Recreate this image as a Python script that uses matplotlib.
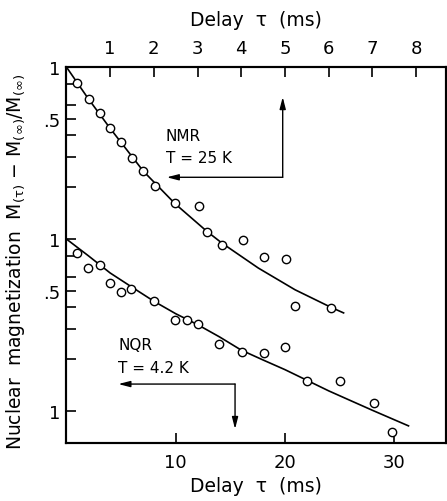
import matplotlib
matplotlib.use('Agg')
import matplotlib.pyplot as plt

# NMR, T = 25 K  (delay on the top axis, ms)
nmr_tau = [0.25, 0.52, 0.77, 1.0, 1.24, 1.5, 1.76, 2.02, 2.49, 3.03, 3.21,
           3.57, 4.03, 4.52, 5.03, 5.23, 6.06]
nmr_m = [0.804, 0.649, 0.542, 0.440, 0.365, 0.295, 0.248, 0.203, 0.163,
         0.156, 0.110, 0.0923, 0.0989, 0.0783, 0.0769, 0.0408, 0.0398]
nmr_fit_tau = [0, 0.49, 1.0, 1.76, 2.49, 3.21, 3.56, 4.39, 5.23, 6.05, 6.34]
nmr_fit_m = [1.0, 0.660, 0.440, 0.248, 0.160, 0.111, 0.0946, 0.0678, 0.0507,
             0.0401, 0.0372]

# NQR, T = 4.2 K  (delay on the bottom axis, ms)
nqr_tau = [1.0, 1.98, 3.03, 4.02, 5.02, 5.93, 8.0, 9.94, 11.0, 12.0, 13.96,
           16.08, 18.05, 19.97, 22.04, 25.03, 28.1, 29.8]
nqr_m = [0.827, 0.683, 0.711, 0.555, 0.494, 0.514, 0.434, 0.340, 0.337,
         0.321, 0.245, 0.221, 0.218, 0.236, 0.149, 0.149, 0.112, 0.076]
nqr_fit_tau = [0, 2, 4, 6, 8, 10, 12, 14, 16, 18, 20, 22, 24, 26, 28, 30, 31.3]
nqr_fit_m = [1.0, 0.80, 0.635, 0.525, 0.435, 0.368, 0.318, 0.270, 0.226,
             0.198, 0.174, 0.151, 0.131, 0.115, 0.101, 0.089, 0.082]

# NQR curve is drawn one decade lower on the shared log axis
NQR_OFFSET = 0.1

y_ticks = [1, .8, .6, .5, .4, .3, .2, .1, .08, .06, .05, .04, .03, .02, .01]
y_labels = ['1', '', '', '.5', '', '', '', '1', '', '', '.5', '', '', '', '1']
bottom_ticks = [10, 20, 30]
top_ticks = [1, 2, 3, 4, 5, 6, 7, 8]

plt.rcParams['mathtext.fontset'] = 'dejavusans'

fig = plt.figure(figsize=(4.47, 5.02), dpi=100)
ax = fig.add_axes([66.4 / 447, 1 - 444 / 502, (446 - 66.4) / 447, (444 - 68) / 502])
ax_top = ax.twiny()

xmax = 34.73
ax.set_xlim(0, xmax)
ax_top.set_xlim(0, xmax / 4)
ax.set_yscale('log')
ax.set_ylim(0.00652, 1.0)

line_kw = dict(color='black', lw=1.2)
mark_kw = dict(ls='none', marker='o', ms=6, mfc='white', mec='black', mew=1.0)

# NMR on top axis
ax_top.plot(nmr_fit_tau, nmr_fit_m, **line_kw)
ax_top.plot(nmr_tau, nmr_m, **mark_kw)

# NQR on bottom axis
ax.plot(nqr_fit_tau, [m * NQR_OFFSET for m in nqr_fit_m], **line_kw)
ax.plot(nqr_tau, [m * NQR_OFFSET for m in nqr_m], **mark_kw)

ax.set_yticks(y_ticks)
ax.set_yticklabels(y_labels)
ax.yaxis.set_minor_locator(matplotlib.ticker.NullLocator())
ax.set_xticks(bottom_ticks)
ax_top.set_xticks(top_ticks)

ax.tick_params(axis='both', direction='in', length=7, width=1.2,
               labelsize=13, pad=4)
ax.tick_params(axis='x', pad=7)
ax_top.tick_params(axis='x', direction='in', length=7, width=1.2,
                   labelsize=13, pad=7)

for a in (ax, ax_top):
    for sp in a.spines.values():
        sp.set_linewidth(1.5)

ax.set_xlabel('Delay  τ  (ms)', fontsize=13.5, labelpad=4)
ax_top.set_xlabel('Delay  τ  (ms)', fontsize=13.5, labelpad=10)
ax.set_ylabel(r'Nuclear  magnetization  $\mathsf{M_{(\tau)}}$ $-$ '
              r'$\mathsf{M_{(\infty)}/M_{(\infty)}}$', fontsize=13.5)
ax.yaxis.set_label_coords(-0.104, 0.484)

# labels and axis arrows
txt_kw = dict(fontsize=11, ha='left', va='baseline')
ax.text(9.08, 0.376, 'NMR', **txt_kw)
ax.text(9.08, 0.2803, 'T = 25 K', **txt_kw)
ax.text(4.75, 0.02293, 'NQR', **txt_kw)
ax.text(4.75, 0.01693, 'T = 4.2 K', **txt_kw)

arr = dict(arrowstyle='-|>,head_length=0.7,head_width=0.18', color='black',
           lw=1.0, shrinkA=0, shrinkB=0)
ax.annotate('', xy=(9.18, 0.2285), xytext=(19.79, 0.2285), arrowprops=arr)
ax.annotate('', xy=(19.79, 0.669), xytext=(19.79, 0.2285), arrowprops=arr)
ax.annotate('', xy=(4.75, 0.01435), xytext=(15.43, 0.01435), arrowprops=arr)
ax.annotate('', xy=(15.43, 0.00786), xytext=(15.43, 0.01435), arrowprops=arr)

fig.savefig('out.png', dpi=100)
